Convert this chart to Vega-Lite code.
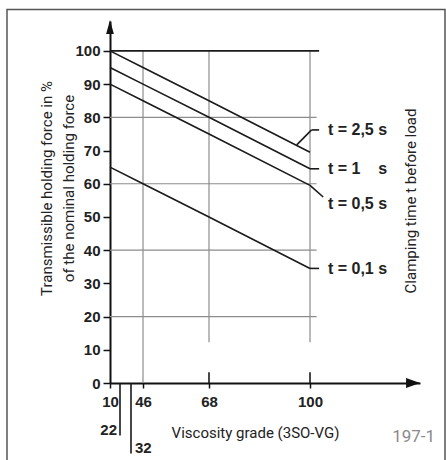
{
  "$schema": "https://vega.github.io/schema/vega-lite/v6.json",
  "width": 310,
  "height": 362,
  "autosize": {"type": "none"},
  "padding": {"left": 110, "top": 21, "right": 26, "bottom": 77},
  "background": "white",
  "config": {"view": {"stroke": null}, "axis": {"grid": false}},
  "datasets": {
    "grid": [
      {"x": 10, "x2": 102.1, "y": 20, "y2": 20, "kind": "grid"},
      {"x": 10, "x2": 102.1, "y": 40, "y2": 40, "kind": "grid"},
      {"x": 10, "x2": 102.1, "y": 60, "y2": 60, "kind": "grid"},
      {"x": 10, "x2": 102.1, "y": 80, "y2": 80, "kind": "grid"},
      {"x": 46, "x2": 46, "y": 0, "y2": 100, "kind": "grid"},
      {"x": 68, "x2": 68, "y": 12.3, "y2": 100, "kind": "grid"},
      {"x": 100, "x2": 100, "y": 12.3, "y2": 100, "kind": "grid"},
      {"x": 10, "x2": 102.9, "y": 100, "y2": 100, "kind": "dark"},
      {"x": 68, "x2": 68, "y": 0, "y2": 3.2, "kind": "dark"},
      {"x": 100, "x2": 100, "y": 0, "y2": 3.2, "kind": "dark"},
      {"x": 22, "x2": 22, "y": 0, "y2": -15.8, "kind": "dark"},
      {"x": 32, "x2": 32, "y": 0, "y2": -21.2, "kind": "dark"},
      {"x": 95.8, "x2": 100.5, "y": 71.7, "y2": 76.2, "kind": "dark"},
      {"x": 100.5, "x2": 102.9, "y": 76.2, "y2": 76.2, "kind": "dark"},
      {"x": 100, "x2": 102.9, "y": 64.5, "y2": 64.5, "kind": "dark"},
      {"x": 100, "x2": 104.2, "y": 59.5, "y2": 56.0, "kind": "dark"},
      {"x": 100, "x2": 102.9, "y": 34.5, "y2": 34.5, "kind": "dark"}
    ],
    "curves": [
      {"t": "2,5 s", "x": 10, "y": 100},
      {"t": "2,5 s", "x": 46, "y": 95},
      {"t": "2,5 s", "x": 68, "y": 85},
      {"t": "2,5 s", "x": 100, "y": 69.5},
      {"t": "1 s", "x": 10, "y": 95},
      {"t": "1 s", "x": 46, "y": 90},
      {"t": "1 s", "x": 68, "y": 80},
      {"t": "1 s", "x": 100, "y": 64.5},
      {"t": "0,5 s", "x": 10, "y": 90},
      {"t": "0,5 s", "x": 46, "y": 85},
      {"t": "0,5 s", "x": 68, "y": 75},
      {"t": "0,5 s", "x": 100, "y": 59.5},
      {"t": "0,1 s", "x": 10, "y": 65},
      {"t": "0,1 s", "x": 46, "y": 60},
      {"t": "0,1 s", "x": 68, "y": 50},
      {"t": "0,1 s", "x": 100, "y": 34.5}
    ],
    "curveLabels": [
      {"text": "t = 2,5 s", "x": 105.7, "y": 76.2},
      {"text": "t = 1\u00a0\u00a0\u00a0\u00a0s", "x": 105.7, "y": 64.3},
      {"text": "t = 0,5 s", "x": 105.7, "y": 54.0},
      {"text": "t = 0,1 s", "x": 105.7, "y": 34.3}
    ],
    "subLabels": [
      {"text": "22", "x": 18.4, "y": -14.2, "side": "right"},
      {"text": "32", "x": 36.7, "y": -19.7, "side": "left"}
    ],
    "rightTitle": [
      {"text": "Clamping time t before load", "x": 132.0, "y": 54.8}
    ],
    "code": [
      {"text": "197-1", "x": 139.8, "y": -16.4}
    ],
    "frame": [
      {"x": -113.6, "x2": 142.95, "y": 112.5, "y2": -24.5}
    ],
    "arrows": [
      {"dir": "up", "x": 10, "y": 107.2},
      {"dir": "right", "x": 132.8, "y": 0}
    ]
  },
  "encoding": {
    "x": {
      "field": "x",
      "type": "quantitative",
      "scale": {"domain": [10, 22, 32, 46, 68, 100, 135], "range": [0, 10, 21, 33, 99, 200, 310], "nice": false, "zero": false},
      "axis": {
        "values": [10, 46, 68, 100],
        "title": "Viscosity grade (3SO-VG)",
        "domainColor": "#111",
        "domainWidth": 2,
        "tickColor": "#111",
        "tickWidth": 1.5,
        "tickSize": 5,
        "labelFont": "Liberation Sans",
        "labelFontSize": 15,
        "labelFontWeight": "bold",
        "labelColor": "#222",
        "labelPadding": 6,
        "labelFlush": false,
        "titleFont": "Roboto",
        "titleFontSize": 15,
        "titleFontWeight": "normal",
        "titleColor": "#222",
        "titleX": 145,
        "titleY": 49,
        "titleAlign": "center",
        "titleBaseline": "middle"
      }
    },
    "y": {
      "field": "y",
      "type": "quantitative",
      "scale": {"domain": [0, 109], "nice": false, "zero": false},
      "axis": {
        "values": [0, 10, 20, 30, 40, 50, 60, 70, 80, 90, 100],
        "title": ["Transmissible holding force in %", "of the nominal holding force"],
        "domainColor": "#111",
        "domainWidth": 2,
        "tickColor": "#111",
        "tickWidth": 1.5,
        "tickSize": 7,
        "labelFont": "Liberation Sans",
        "labelFontSize": 15,
        "labelFontWeight": "bold",
        "labelColor": "#222",
        "labelPadding": 3,
        "labelFlush": false,
        "titleFont": "Roboto",
        "titleFontSize": 15,
        "titleFontWeight": "normal",
        "titleColor": "#222",
        "titleAngle": 270,
        "titleAlign": "center",
        "titleBaseline": "top",
        "titleX": -71,
        "titleY": 167,
        "titleLineHeight": 22
      }
    }
  },
  "layer": [
    {
      "data": {"name": "frame"},
      "mark": {"type": "rect", "fill": null, "filled": false, "stroke": "#555", "strokeWidth": 1.5, "clip": false},
      "encoding": {"x2": {"field": "x2"}, "y2": {"field": "y2"}}
    },
    {
      "data": {"name": "grid"},
      "mark": {"type": "rule", "clip": false},
      "encoding": {
        "x2": {"field": "x2"},
        "y2": {"field": "y2"},
        "color": {"field": "kind", "type": "nominal", "scale": {"domain": ["grid", "dark"], "range": ["#8c8c8c", "#1a1a1a"]}, "legend": null},
        "strokeWidth": {"field": "kind", "type": "nominal", "scale": {"domain": ["grid", "dark"], "range": [1.2, 1.6]}, "legend": null}
      }
    },
    {
      "data": {"name": "curves"},
      "mark": {"type": "line", "color": "#1a1a1a", "strokeWidth": 1.6, "clip": false},
      "encoding": {"detail": {"field": "t", "type": "nominal"}}
    },
    {
      "data": {"name": "curveLabels"},
      "mark": {"type": "text", "align": "left", "baseline": "middle", "font": "Liberation Sans", "fontSize": 16, "fontWeight": "bold", "color": "#222"},
      "encoding": {"text": {"field": "text"}}
    },
    {
      "data": {"name": "subLabels"},
      "transform": [{"filter": "datum.side === 'right'"}],
      "mark": {"type": "text", "align": "right", "baseline": "middle", "font": "Liberation Sans", "fontSize": 15, "fontWeight": "bold", "color": "#222"},
      "encoding": {"text": {"field": "text"}}
    },
    {
      "data": {"name": "subLabels"},
      "transform": [{"filter": "datum.side === 'left'"}],
      "mark": {"type": "text", "align": "left", "baseline": "middle", "font": "Liberation Sans", "fontSize": 15, "fontWeight": "bold", "color": "#222"},
      "encoding": {"text": {"field": "text"}}
    },
    {
      "data": {"name": "rightTitle"},
      "mark": {"type": "text", "align": "center", "baseline": "middle", "angle": 270, "font": "Roboto", "fontSize": 15, "color": "#222"},
      "encoding": {"text": {"field": "text"}}
    },
    {
      "data": {"name": "code"},
      "mark": {"type": "text", "align": "right", "baseline": "middle", "font": "Roboto", "fontSize": 17, "color": "#8a8a8a"},
      "encoding": {"text": {"field": "text"}}
    },
    {
      "data": {"name": "arrows"},
      "mark": {"type": "point", "filled": true, "color": "#111", "opacity": 1, "size": 196, "clip": false},
      "encoding": {
        "shape": {"field": "dir", "type": "nominal", "scale": {"domain": ["up", "right"], "range": ["M0,-1L0.55,1L-0.55,1Z", "M1,0L-1,-0.7L-1,0.7Z"]}, "legend": null}
      }
    }
  ]
}
